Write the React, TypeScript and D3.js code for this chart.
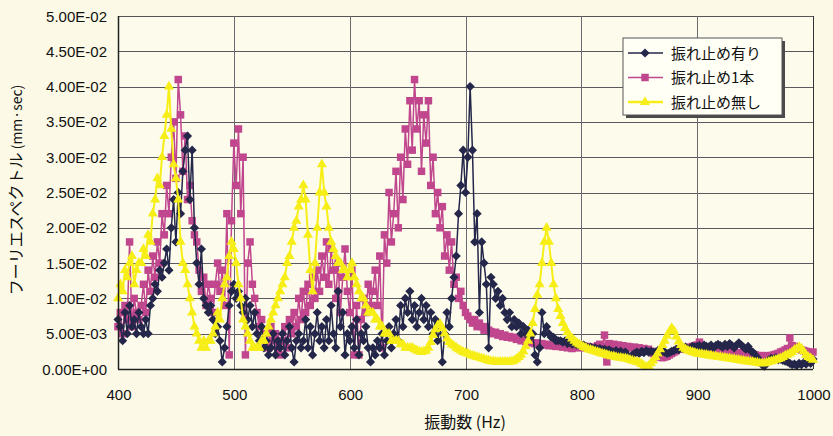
import React, { useRef, useEffect } from "react";
import * as d3 from "d3";

// frequency grid (Hz)
const freqStart = 400;
const freqEnd = 1000;
const freqStep = 2;

// fourier spectrum, in units of 1e-3 mm·sec, one value per 2 Hz from 400 to 1000
const withBrace: number[] = [
  7, 6, 4, 8, 5, 9, 6, 7, 5, 8,
  6, 5, 7, 5, 9, 10, 12, 11, 14, 13,
  15, 17, 14, 20, 24, 18, 25, 22, 28, 31,
  33, 24, 31, 20, 15, 12, 17, 10, 9, 8,
  9, 7, 5, 6, 4, 1, 3, 6, 9, 11,
  12, 10, 11, 9, 8, 10, 7, 9, 6, 8,
  5, 4, 6, 3, 4, 2, 3, 5, 2, 4,
  3, 5, 2, 4, 6, 3, 1, 4, 5, 3,
  4, 7, 3, 6, 2, 5, 8, 4, 6, 3,
  7, 4, 9, 5, 3, 11, 6, 8, 2, 5,
  4, 6, 3, 7, 2, 5, 4, 6, 3, 1,
  3, 2, 4, 3, 5, 2, 4, 6, 3, 5,
  7, 4, 9, 6, 10, 8, 11, 7, 9, 6,
  8, 10, 7, 9, 6, 8, 5, 7, 4, 6,
  1, 5, 8, 6, 10, 13, 16, 22, 26, 31,
  25, 30, 40, 31, 18, 22, 8, 18, 15, 12,
  3, 13, 12, 10, 11, 9, 10, 8, 7, 8,
  6, 7, 6, 6.5, 5, 6, 5, 5.5, 4.5, 5,
  2, 1, 3, 8, 5, 6, 5, 4.5, 4.5, 4,
  4, 4, 3.8, 4, 3.6, 3.8, 3.5, 3.6, 3.4, 3.5,
  3.3, 3.4, 3.2, 3, 3.1, 2.9, 3, 2.8, 2.9, 2.7,
  2.8, 2.6, 2.7, 2.5, 2.4, 2.6, 2.3, 2.5, 2.2, 2.4,
  1.8, 1.6, 2, 2.2, 2.4, 2.2, 2.5, 2.3, 2.6, 2.4,
  2.5, 2.4, 2.4, 2.6, 2.3, 2.5, 2.4, 2.2, 2.3, 2.5,
  2.6, 2.8, 2.7, 3, 2.9, 3.1, 2.8, 3, 3.2, 3.1,
  3.2, 3.3, 3, 3.4, 3.2, 3.1, 3.4, 3, 3.3, 3.5,
  3.3, 3.1, 3.5, 3.2, 3.6, 3.3, 3, 3.4, 3.7, 3.4,
  3.1, 2.8, 3.2, 2.6, 2.4, 2, 1.6, 1.2, 0.6, 0.4,
  1, 1.3, 1.5, 1.4, 1.6, 1.3, 1.4, 1.2, 1.1, 1,
  0.8, 0.6, 0.7, 0.5, 0.8, 0.6, 0.9, 0.7, 1, 0.8,
  1.4,
];

const oneBrace: number[] = [
  6, 8, 5, 9, 7, 18, 6, 10, 8, 7,
  9, 12, 8, 14, 11, 16, 13, 18, 15, 22,
  19, 26, 22, 30, 35, 27, 41, 36, 28, 33,
  24, 26, 21, 19, 18, 14, 11, 13, 9, 12,
  10, 8, 12, 15, 11, 14, 9, 22, 2, 21,
  32, 26, 34, 22, 30, 2, 15, 18, 12, 10,
  8, 6, 7, 4, 5, 3, 6, 4, 5, 3,
  2, 4, 6, 3, 7, 5, 8, 6, 10, 7,
  11, 8, 12, 9, 13, 10, 14, 11, 16, 13,
  18, 12, 17, 14, 10, 15, 8, 13, 17, 11,
  8, 14, 2, 9, 2, 7, 10, 8, 12, 9,
  11, 14, 9, 16, 3, 19, 15, 25, 18, 22,
  28, 20, 30, 24, 34, 29, 38, 31, 41, 34,
  38, 28, 36, 32, 38, 26, 30, 22, 25, 20,
  23, 16, 19, 14, 18, 12, 13, 10, 11, 9,
  8, 7.5, 7, 6.5, 7, 6, 6.5, 6, 5.5, 6,
  5.5, 5.3, 5, 5.2, 4.8, 5, 4.6, 4.8, 4.5, 4.6,
  4.4, 4.5, 4.2, 4.3, 4, 4.1, 3.9, 4, 3.8, 3.7,
  3.6, 3.7, 3.5, 3.6, 3.4, 3.5, 3.3, 3.4, 3.3, 3.2,
  3.3, 3.2, 3.1, 3.2, 3, 3.1, 2.9, 3, 3.2, 3.1,
  3, 3.1, 3.2, 3, 2.9, 3.1, 3, 3.3, 3.5, 3.2,
  4.8, 1, 3.6, 3.4, 3.5, 3.3, 3.4, 3.2, 3.3, 3.1,
  3.2, 3.1, 3, 3.1, 2.9, 3, 2.8, 2.9, 2.7, 2.8,
  2.5, 2.2, 2, 1.8, 1.7, 1.6, 1.7, 1.8, 2, 2.2,
  2.4, 2.6, 2.8, 2.9, 3, 2.9, 3, 3.1, 3.2, 3.3,
  3.4, 3.8, 3.2, 3, 2.9, 2.8, 2.8, 2.7, 2.6, 2.6,
  2.5, 2.5, 2.4, 2.5, 2.4, 2.3, 2.4, 2.3, 2.2, 2.3,
  2.2, 2.1, 2.2, 2, 2.1, 2, 1.9, 1.9, 1.8, 1.8,
  1.9, 1.8, 1.9, 2, 2.1, 2.2, 2.4, 2.5, 2.7, 2.9,
  4.4, 3.3, 3.2, 3, 2.9, 2.7, 2.6, 2.5, 2.4, 2.3,
  2.4,
];

const noBrace: number[] = [
  10, 12, 11, 14, 13, 15, 16, 12, 14, 15,
  15, 17, 16, 19, 18, 22, 24, 27, 26, 30,
  33, 36, 40, 34, 29, 27, 24, 18, 15, 14,
  12, 10, 8, 6, 5, 4, 3, 4, 3, 4,
  4, 5, 6, 8, 7, 10, 12, 13, 16, 18,
  17, 15, 12, 10, 7, 6, 5, 4, 3, 3,
  3, 3, 4, 4, 5, 6, 7, 8, 9, 10,
  11, 12, 13, 15, 16, 18, 20, 21, 23, 24,
  26, 24, 19, 14, 11, 15, 20, 25, 29, 25,
  23, 20, 18, 17, 16, 15, 15, 14, 14, 13,
  14, 15, 13, 12, 11, 10, 10, 9, 8, 8,
  8, 7, 7, 6, 6, 5, 5, 5, 4, 4,
  4, 4, 3.5, 3.5, 3, 3, 3, 3, 2.8, 2.6,
  2.5, 2.4, 2.5, 2.6, 3, 3.8, 4.8, 5.6, 6.2, 6.4,
  5.8, 5, 4.3, 3.8, 3.5, 3.3, 3, 2.8, 2.6, 2.4,
  2.3, 2.2, 2, 1.9, 1.8, 1.7, 1.6, 1.5, 1.4, 1.3,
  1.2, 1.1, 1.1, 1, 1, 1, 1, 1, 1, 1,
  1.1, 1.2, 1.4, 1.7, 2, 2.5, 3.2, 4, 5, 6.5,
  8.5, 10.5, 12, 15, 18, 20, 18, 15, 12, 10,
  8.5, 7.5, 6.5, 5.8, 5.2, 4.7, 4.3, 4, 3.7, 3.5,
  3.3, 3.1, 3, 2.8, 2.7, 2.6, 2.5, 2.4, 2.3, 2.2,
  2.1, 2, 1.9, 1.8, 1.8, 1.7, 1.6, 1.6, 1.5, 1.5,
  1.4, 1.3, 1.2, 1.1, 1, 0.9, 0.7, 0.5, 0.3, 0.4,
  0.8, 1.2, 1.7, 2.2, 2.8, 3.4, 4, 4.7, 5.3, 5.8,
  5.4, 4.6, 3.9, 3.4, 3, 2.8, 2.6, 2.5, 2.4, 2.3,
  2.2, 2.1, 2.1, 2, 2, 1.9, 1.9, 1.8, 1.8, 1.7,
  1.7, 1.6, 1.6, 1.5, 1.5, 1.4, 1.4, 1.3, 1.3, 1.2,
  1.2, 1.1, 1.1, 1, 1, 0.9, 0.9, 0.8, 0.8, 0.8,
  0.9, 1, 1.1, 1.2, 1.3, 1.4, 1.5, 1.7, 1.9, 2,
  2.2, 2.4, 2.7, 2.9, 3.1, 2.9, 2.5, 2, 1.7, 1.5,
  1.3,
];

const seriesNames = ["振れ止め有り", "振れ止め1本", "振れ止め無し"];
const yTicks = [0, 5, 10, 15, 20, 25, 30, 35, 40, 45, 50];
const xTicks = [400, 500, 600, 700, 800, 900, 1000];

interface Series {
  name: string;
  values: number[];
  color: string;
  marker: "diamond" | "square" | "triangle";
}

const fmtExp = (v: number) => {
  if (v === 0) return "0.00E+00";
  const [m, e] = (v * 1e-3).toExponential(2).split("e");
  const n = parseInt(e, 10);
  return `${m}E${n < 0 ? "-" : "+"}${String(Math.abs(n)).padStart(2, "0")}`;
};

const App: React.FC = () => {
  const ref = useRef<SVGSVGElement | null>(null);
  const width = 833;
  const height = 436;
  const plot = { left: 118, right: 813, top: 16, bottom: 369 };

  useEffect(() => {
    if (!ref.current) return;
    const svg = d3.select(ref.current);
    svg.selectAll("*").remove();

    const freq = d3.range(freqStart, freqEnd + freqStep / 2, freqStep);
    const x = d3.scaleLinear().domain([400, 1000]).range([plot.left, plot.right]);
    const y = d3.scaleLinear().domain([0, 50]).range([plot.bottom, plot.top]);

    const series: Series[] = [
      { name: seriesNames[0], values: withBrace, color: "#24264a", marker: "diamond" },
      { name: seriesNames[1], values: oneBrace, color: "#c0468e", marker: "square" },
      { name: seriesNames[2], values: noBrace, color: "#f6ee16", marker: "triangle" },
    ];

    const markerPath = (m: Series["marker"]) => {
      if (m === "square") return d3.symbol().type(d3.symbolSquare).size(56)()!;
      if (m === "triangle") return d3.symbol().type(d3.symbolTriangle).size(44)()!;
      return d3.symbol().type(d3.symbolSquare).size(42)()!;
    };
    const markerRot = (m: Series["marker"]) => (m === "diamond" ? " rotate(45)" : "");

    // background
    svg.append("rect").attr("width", width).attr("height", height).attr("fill", "#fcfae6");
    svg
      .append("rect")
      .attr("x", plot.left)
      .attr("y", plot.top)
      .attr("width", plot.right - plot.left)
      .attr("height", plot.bottom - plot.top)
      .attr("fill", "#fdfcec");

    // grid
    const grid = svg.append("g").attr("stroke-width", 1);
    yTicks.slice(1).forEach((t) => {
      grid
        .append("line")
        .attr("x1", plot.left)
        .attr("x2", plot.right)
        .attr("y1", Math.round(y(t)) + 0.5)
        .attr("y2", Math.round(y(t)) + 0.5)
        .attr("stroke", t === 50 ? "#555" : "#5a5a60");
    });
    xTicks.slice(1).forEach((t) => {
      grid
        .append("line")
        .attr("x1", Math.round(x(t)) + 0.5)
        .attr("x2", Math.round(x(t)) + 0.5)
        .attr("y1", plot.top)
        .attr("y2", plot.bottom)
        .attr("stroke", t === 1000 ? "#333" : "#6a6a70");
    });

    // series, drawn pink first, then navy, then yellow on top
    const drawOrder = [series[1], series[0], series[2]];
    const line = d3
      .line<number>()
      .x((_, i) => x(freq[i]))
      .y((d) => y(d));

    drawOrder.forEach((s) => {
      const g = svg.append("g");
      g.append("path")
        .attr("d", line(s.values))
        .attr("fill", "none")
        .attr("stroke", s.color)
        .attr("stroke-width", s.marker === "triangle" ? 2 : 1.5)
        .attr("stroke-linejoin", "round");
      const path = markerPath(s.marker);
      g.selectAll("path.mk")
        .data(s.values)
        .enter()
        .append("path")
        .attr("class", "mk")
        .attr("d", path)
        .attr("transform", (d, i) => `translate(${x(freq[i])},${y(d)})${markerRot(s.marker)}`)
        .attr("fill", s.color);
    });

    // axes frame
    svg
      .append("line")
      .attr("x1", plot.left + 0.5)
      .attr("x2", plot.left + 0.5)
      .attr("y1", plot.top)
      .attr("y2", plot.bottom)
      .attr("stroke", "#222")
      .attr("stroke-width", 1.5);
    svg
      .append("line")
      .attr("x1", plot.left)
      .attr("x2", plot.right)
      .attr("y1", plot.bottom + 0.5)
      .attr("y2", plot.bottom + 0.5)
      .attr("stroke", "#222")
      .attr("stroke-width", 1.5);

    const font = "'Liberation Sans', Arial, sans-serif";
    const jpFont = "'Noto Sans CJK JP', 'Noto Sans', sans-serif";

    // y tick labels
    svg
      .append("g")
      .selectAll("text")
      .data(yTicks)
      .enter()
      .append("text")
      .attr("x", 107)
      .attr("y", (d) => y(d) + 5.5)
      .attr("text-anchor", "end")
      .attr("font-family", font)
      .attr("font-size", 15)
      .attr("fill", "#111")
      .text((d) => fmtExp(d));

    // x tick labels
    svg
      .append("g")
      .selectAll("text")
      .data(xTicks)
      .enter()
      .append("text")
      .attr("x", (d) => x(d) + 1)
      .attr("y", 400)
      .attr("text-anchor", "middle")
      .attr("font-family", font)
      .attr("font-size", 15)
      .attr("fill", "#111")
      .text((d) => String(d));

    // axis titles
    svg
      .append("text")
      .attr("x", 465)
      .attr("y", 428)
      .attr("text-anchor", "middle")
      .attr("font-family", jpFont)
      .attr("font-size", 16)
      .attr("fill", "#111")
      .text("振動数 (Hz)");

    const yTitle = svg
      .append("text")
      .attr("transform", "translate(22,190) rotate(-90)")
      .attr("text-anchor", "middle")
      .attr("font-family", jpFont)
      .attr("font-size", 16)
      .attr("fill", "#111");
    yTitle.append("tspan").text("フーリエスペクトル");
    yTitle.append("tspan").attr("font-size", 14).text(" (mm·sec)");

    // legend
    const lg = svg.append("g").attr("transform", "translate(623,38)");
    lg.append("rect").attr("x", 3).attr("y", 3).attr("width", 159).attr("height", 77).attr("fill", "#4a4a4a");
    lg.append("rect")
      .attr("width", 159)
      .attr("height", 77)
      .attr("fill", "#fffff6")
      .attr("stroke", "#555")
      .attr("stroke-width", 1);
    series.forEach((s, i) => {
      const cy = 15 + i * 24.5;
      lg.append("line")
        .attr("x1", 5)
        .attr("x2", 40)
        .attr("y1", cy)
        .attr("y2", cy)
        .attr("stroke", s.color)
        .attr("stroke-width", s.marker === "triangle" ? 2.5 : 1.5);
      lg.append("path")
        .attr("d", markerPath(s.marker))
        .attr("transform", `translate(22,${cy})${markerRot(s.marker)}`)
        .attr("fill", s.color);
      lg.append("text")
        .attr("x", 48)
        .attr("y", cy + 5.5)
        .attr("font-family", jpFont)
        .attr("font-size", 15)
        .attr("fill", "#111")
        .text(s.name);
    });
  }, []);

  return (
    <svg
      ref={ref}
      width={width}
      height={height}
      style={{ position: "absolute", left: 0, top: 0, display: "block" }}
    />
  );
};

export default App;
